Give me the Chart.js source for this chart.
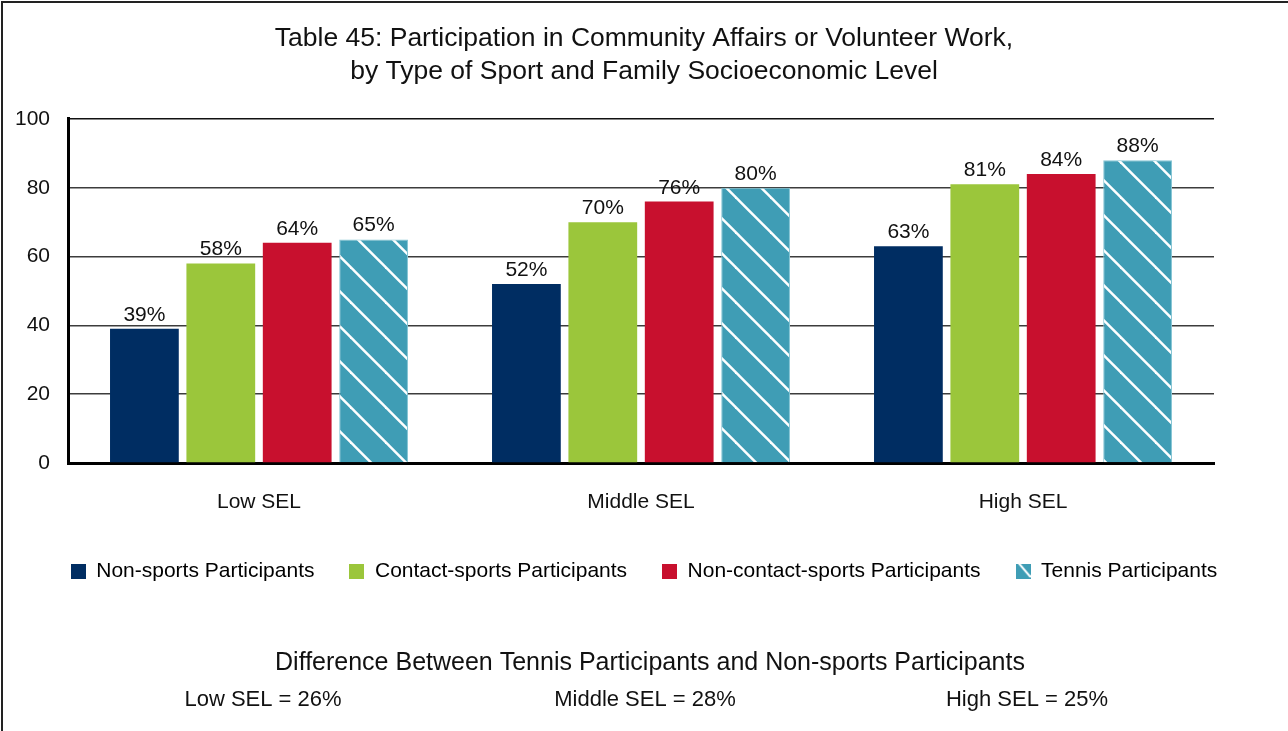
<!DOCTYPE html>
<html>
<head>
<meta charset="utf-8">
<title>Table 45: Participation in Community Affairs or Volunteer Work</title>
<script src="https://cdn.jsdelivr.net/npm/chart.js@4.4.1/dist/chart.umd.min.js"></script>
<style>
  html, body { margin: 0; padding: 0; background: #fff; }
  #wrap { width: 1288px; height: 731px; }
</style>
</head>
<body>
<div id="wrap"><canvas id="chart" width="1288" height="731"></canvas></div>
<script>
// --- data ---
const categories = ['Low SEL', 'Middle SEL', 'High SEL'];
const seriesNames = ['Non-sports Participants', 'Contact-sports Participants', 'Non-contact-sports Participants', 'Tennis Participants'];
const nonSports = [39, 52, 63];
const contactSports = [58, 70, 81];
const nonContactSports = [64, 76, 84];
const tennis = [65, 80, 88];
const yTicks = [0, 20, 40, 60, 80, 100];
const tennisGap = [26, 28, 25];

const titleLines = ['Table 45: Participation in Community Affairs or Volunteer Work,', 'by Type of Sport and Family Socioeconomic Level'];
const footerTitle = 'Difference Between Tennis Participants and Non-sports Participants';

const NAVY = '#002d62';
const GREEN = '#9bc63b';
const RED = '#c8102e';
const TEAL = '#3f9db5';
const FONT = "'Liberation Sans', Arial, Helvetica, sans-serif";

Chart.defaults.font.family = FONT;
Chart.defaults.color = '#111';

// white diagonal stripes on teal, "\" direction
function makeHatch() {
    const s = 35;
    const c = document.createElement('canvas');
    c.width = s; c.height = s;
    const g = c.getContext('2d');
    g.fillStyle = TEAL;
    g.fillRect(0, 0, s, s);
    g.strokeStyle = '#fff';
    g.lineWidth = 2.5;
    const off = 21.6;
    for (let k = -1; k <= 1; k++) {
        g.beginPath();
        g.moveTo(k * s - off - 2, -2);
        g.lineTo(k * s - off + s + 2, s + 2);
        g.stroke();
    }
    return g.createPattern(c, 'repeat');
}

function legendSwatch(color, striped) {
    const c = document.createElement('canvas');
    c.width = 15; c.height = 15;
    const g = c.getContext('2d');
    g.fillStyle = color;
    g.fillRect(0, 0, 15, 15);
    if (striped) {
        g.strokeStyle = '#fff';
        g.lineWidth = 2;
        g.beginPath();
        g.moveTo(3, -1);
        g.lineTo(15, 13);
        g.stroke();
    }
    return c;
}

const hatch = makeHatch();
const swatches = [
    legendSwatch(NAVY), legendSwatch(GREEN), legendSwatch(RED), legendSwatch(TEAL, true)
];

// page frame (left + top rule) and white background
const framePlugin = {
    id: 'frame',
    beforeDraw(chart) {
        const ctx = chart.ctx;
        ctx.save();
        ctx.fillStyle = '#fff';
        ctx.fillRect(0, 0, chart.width, chart.height);
        ctx.strokeStyle = '#222';
        ctx.lineWidth = 2;
        ctx.beginPath();
        ctx.moveTo(2, chart.height);
        ctx.lineTo(2, 2);
        ctx.lineTo(chart.width, 2);
        ctx.stroke();
        ctx.restore();
    }
};

// percentage labels above the bars
const valueLabels = {
    id: 'valueLabels',
    afterDatasetsDraw(chart) {
        const ctx = chart.ctx;
        ctx.save();
        ctx.font = '21px ' + FONT;
        ctx.fillStyle = '#111';
        ctx.textAlign = 'center';
        ctx.textBaseline = 'alphabetic';
        chart.data.datasets.forEach((ds, i) => {
            chart.getDatasetMeta(i).data.forEach((bar, j) => {
                ctx.fillText(ds.data[j] + '%', bar.x, bar.y - 8);
            });
        });
        ctx.restore();
    }
};

// difference block under the legend
const footerNote = {
    id: 'footerNote',
    afterDraw(chart) {
        const ctx = chart.ctx;
        const x = chart.scales.x;
        ctx.save();
        ctx.fillStyle = '#111';
        ctx.textAlign = 'center';
        ctx.textBaseline = 'middle';
        ctx.font = '25px ' + FONT;
        ctx.fillText(footerTitle, chart.width / 2 + 6, 663);
        ctx.font = '22px ' + FONT;
        categories.forEach((c, i) => {
            ctx.fillText(c + ' = ' + tennisGap[i] + '%', x.getPixelForValue(i) + 4, 700);
        });
        ctx.restore();
    }
};

const colors = [NAVY, GREEN, RED, hatch];
const seriesData = [nonSports, contactSports, nonContactSports, tennis];

new Chart(document.getElementById('chart'), {
    type: 'bar',
    data: {
        labels: categories,
        datasets: seriesNames.map((name, i) => ({
            label: name,
            data: seriesData[i],
            backgroundColor: colors[i],
            borderColor: i === 3 ? '#86c5d4' : colors[i],
            borderWidth: i === 3 ? 1 : 0,
            categoryPercentage: 0.8,
            barPercentage: 0.9
        }))
    },
    options: {
        responsive: false,
        devicePixelRatio: 1,
        animation: false,
        layout: { padding: { left: 10, right: 10, top: 0, bottom: 139 } },
        plugins: {
            title: {
                display: true,
                text: titleLines,
                color: '#111',
                font: { size: 26.5, weight: 'normal', lineHeight: 1.245 },
                padding: { top: 22, bottom: 31 }
            },
            legend: {
                position: 'bottom',
                labels: {
                    font: { size: 21 },
                    color: '#111',
                    padding: 35,
                    boxWidth: 15,
                    boxHeight: 15,
                    usePointStyle: true,
                    generateLabels(chart) {
                        return chart.data.datasets.map((ds, i) => ({
                            text: ds.label,
                            pointStyle: swatches[i],
                            fillStyle: 'transparent',
                            strokeStyle: 'transparent',
                            lineWidth: 0,
                            hidden: false,
                            datasetIndex: i
                        }));
                    }
                }
            },
            tooltip: { enabled: false }
        },
        scales: {
            x: {
                grid: { display: false, drawTicks: false },
                border: { display: true, color: '#000', width: 3 },
                ticks: { font: { size: 21 }, color: '#111', padding: 27 },
                afterFit(scale) { scale.height = 63; }
            },
            y: {
                min: 0,
                max: 100,
                afterBuildTicks(scale) { scale.ticks = yTicks.map(v => ({ value: v })); },
                grid: {
                    drawTicks: false,
                    color: ctx => (ctx.tick && ctx.tick.value === 100 ? '#111' : '#3c3c3c'),
                    lineWidth: 1.5
                },
                border: { display: true, color: '#000', width: 3 },
                ticks: { font: { size: 21 }, color: '#111', padding: 18 },
                afterFit(scale) { scale.width = 58; }
            },
            // spacer on the right so the plot ends where the reference does
            y2: {
                position: 'right',
                display: true,
                grid: { display: false, drawTicks: false },
                border: { display: false },
                ticks: { display: false },
                afterFit(scale) { scale.width = 64; }
            }
        }
    },
    plugins: [framePlugin, valueLabels, footerNote]
});
</script>
</body>
</html>
